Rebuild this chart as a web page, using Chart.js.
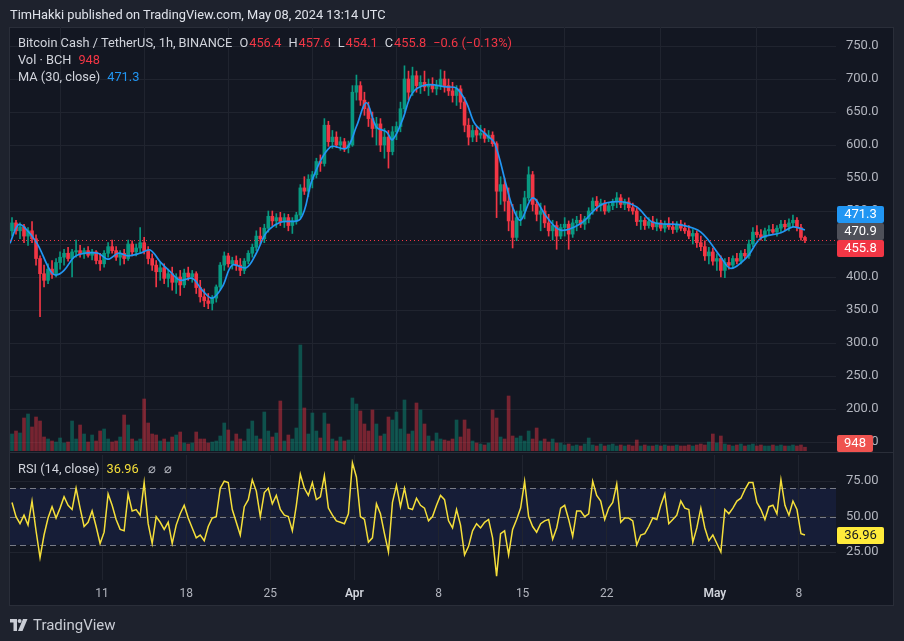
<!DOCTYPE html>
<html>
<head>
<meta charset="utf-8">
<script src="https://cdn.jsdelivr.net/npm/chart.js@4.4.1/dist/chart.umd.min.js"></script>
<style>
  body { margin: 0; width: 904px; height: 641px; overflow: hidden; background: #1e222d; position: relative; font-family: Roboto, "Noto Sans", sans-serif; }
  #frame { position: absolute; left: 9px; top: 27px; width: 883px; height: 577px; border: 1px solid #2a2e39; background: #131722; }
  .sep { position: absolute; left: 10px; width: 883px; background: #2a2e39; }
  canvas { position: absolute; left: 0; top: 0; }
  .t { position: absolute; white-space: pre; font-size: 12.8px; line-height: 16px; color: #d1d4dc; }
  .t span { margin-left: 7px; }
  .t span.v { margin-left: 1px; }
  .r { color: #f23645; }
  .b { color: #2196f3; }
  .y { color: #f5df3a; }
  .m { color: #b2b5be; }
</style>
</head>
<body>
<div id="frame"></div>
<div class="sep" style="top:452px;height:1px"></div>
<canvas id="prix" width="904" height="641"></canvas>
<canvas id="rsi" width="904" height="641"></canvas>

<div class="t" style="left:10px;top:7px;color:#dfe2ea">TimHakki published on TradingView.com, May 08, 2024 13:14 UTC</div>

<div class="t" style="left:18px;top:35px">Bitcoin Cash / TetherUS, 1h, BINANCE<span>O</span><span class="v r">456.4</span><span>H</span><span class="v r">457.6</span><span>L</span><span class="v r">454.1</span><span>C</span><span class="v r">455.8</span><span class="r">−0.6 (−0.13%)</span></div>
<div class="t" style="left:18px;top:52px">Vol · BCH<span class="r">948</span></div>
<div class="t" style="left:18px;top:69px">MA (30, close)<span class="b">471.3</span></div>

<div class="t" style="left:18px;top:461px">RSI (14, close)<span class="y">36.96</span><span class="m" style="margin-left:9px">⌀</span><span class="m" style="margin-left:8px">⌀</span></div>

<svg style="position:absolute;left:10px;top:619px" width="18" height="12" viewBox="0 0 18 12">
  <path d="M0 0h7v12H3.5V3.5H0z" fill="#c9ccd4"/>
  <circle cx="9.6" cy="2" r="2" fill="#c9ccd4"/>
  <path d="M13 0h4.5l-5 12H8z" fill="#c9ccd4"/>
</svg>
<div class="t" style="left:33px;top:616px;font-size:15px;line-height:18px;color:#c9ccd4">TradingView</div>

<script>
// 8-hour candles, hours counted from Mar 11 00:00 UTC
const candleStartHour = -184;
const candleHours = 8;

// [open, high, low, close]
const ohlc = [
  [470,490,462,482],[482,486,465,470],[470,482,458,476],[476,480,452,462],[462,475,448,470],
  [470,484,452,458],[458,464,418,428],[428,432,340,405],[405,418,385,395],[395,420,390,412],
  [412,425,398,404],[404,428,400,422],[422,438,412,430],[430,442,418,436],[436,445,424,428],
  [428,442,400,438],[438,456,430,440],[440,448,430,435],[435,444,428,440],[440,446,430,433],
  [433,442,426,438],[438,440,420,425],[425,436,410,420],[420,440,415,436],[436,452,430,446],
  [446,456,436,440],[440,446,425,430],[430,440,418,436],[436,442,420,428],[428,456,425,450],
  [450,455,432,438],[438,450,432,444],[444,475,436,452],[452,460,435,440],[440,446,420,428],
  [428,435,410,418],[418,425,385,408],[408,422,395,414],[414,420,390,398],[398,412,385,405],
  [405,415,380,392],[392,405,375,400],[400,410,372,388],[388,412,384,406],[406,415,395,400],
  [400,410,392,405],[405,408,375,384],[384,395,362,370],[370,382,355,364],[364,375,352,360],
  [360,372,350,368],[368,388,362,385],[385,422,380,418],[418,438,410,432],[432,436,415,420],
  [420,430,412,425],[425,432,410,418],[418,428,402,410],[410,428,405,424],[424,440,420,436],
  [436,450,430,445],[445,470,440,462],[462,475,450,458],[458,480,452,474],[474,500,468,492],
  [492,500,478,485],[485,496,475,490],[490,498,478,484],[484,496,475,490],[490,495,470,478],
  [478,490,466,485],[485,498,480,494],[494,540,490,535],[535,552,525,530],[530,555,522,548],
  [548,560,535,555],[555,580,550,575],[575,585,560,572],[572,640,568,630],[630,636,598,605],
  [605,622,595,612],[612,620,596,600],[600,612,592,605],[605,610,590,596],[596,606,588,600],
  [600,690,598,680],[680,706,668,690],[690,696,660,668],[668,680,645,655],[655,665,628,640],
  [640,650,612,625],[625,642,600,632],[632,640,590,600],[600,625,580,612],[612,622,565,590],
  [590,628,585,620],[620,635,608,628],[628,665,620,655],[655,720,650,700],[700,712,668,680],
  [680,718,675,705],[705,712,680,690],[690,705,678,695],[695,712,682,688],[688,700,675,692],
  [692,702,680,685],[685,698,676,690],[690,714,684,700],[700,712,680,690],[690,700,675,682],
  [682,695,665,675],[675,690,660,685],[685,690,655,665],[665,672,620,630],[630,640,600,612],
  [612,630,605,622],[622,628,605,615],[615,630,610,618],[618,625,604,610],[610,622,605,615],
  [615,620,598,602],[602,605,490,530],[530,552,510,540],[540,550,500,515],[515,535,470,485],
  [485,510,444,460],[460,500,455,490],[490,510,478,500],[500,530,488,520],[520,567,515,555],
  [555,560,500,510],[510,518,485,495],[495,512,470,500],[500,508,475,482],[482,495,462,470],
  [470,486,456,478],[478,484,442,462],[462,480,458,475],[475,490,462,480],[480,485,442,465],
  [465,488,460,482],[482,492,470,486],[486,495,475,480],[480,492,472,488],[488,505,482,500],
  [500,520,495,515],[515,522,500,508],[508,518,500,512],[512,516,495,500],[500,512,498,508],
  [508,518,502,514],[514,528,505,520],[520,525,505,510],[510,518,502,514],[514,520,500,505],
  [505,512,495,500],[500,504,478,484],[484,492,472,486],[486,490,472,478],[478,490,474,484],
  [484,492,472,476],[476,488,470,482],[482,486,470,474],[474,485,468,480],[480,490,472,476],
  [476,484,466,472],[472,484,468,480],[480,486,470,474],[474,482,466,470],[470,478,458,462],
  [462,472,450,466],[466,470,445,452],[452,462,440,446],[446,455,425,432],[432,445,420,438],
  [438,444,418,424],[424,435,410,428],[428,432,400,410],[410,428,399,422],[422,430,412,418],
  [418,432,414,428],[428,436,420,424],[424,440,420,436],[436,442,428,432],[432,456,428,450],
  [450,475,446,468],[468,478,460,464],[464,472,456,460],[460,474,455,470],[470,478,464,472],
  [472,480,466,468],[468,478,462,474],[474,486,468,480],[480,486,470,476],[476,488,470,482],
  [482,494,476,486],[486,490,470,475],[475,480,456,460],[460,462,452,455.8]
];

// volume (BCH), peak hourly bar inside each 8h slot
const volumes = [
  4250,5000,4500,8250,9250,6000,8500,7500,3500,3000,
  2500,2250,3250,2000,2250,7500,3000,6500,4250,2250,
  4000,2500,5000,5500,3000,2250,2500,3500,9000,6500,
  3000,2500,3000,13000,7000,4250,4000,2500,3000,2250,
  3500,4000,4750,2000,1750,2000,4750,3000,3000,2000,
  2250,2500,3750,7000,5250,2500,4250,3000,2500,5500,
  7500,3750,3000,9750,5000,3500,4500,12500,2500,4000,
  3000,5750,26500,10750,4250,9500,5000,3250,9500,6750,
  3000,2500,3500,2500,2750,13250,11750,10000,6750,5000,
  10250,6750,3750,4250,8500,7750,9750,5500,12750,4250,
  5000,12000,10250,6750,3750,2500,4500,3000,2750,2500,
  3000,7750,3500,7750,5500,2500,2000,1750,1500,2000,
  10250,8250,3500,3000,13750,3750,3250,3750,2500,5000,
  3000,5750,2500,3000,2250,3000,2000,2000,1500,1750,
  1250,1500,1250,1750,3250,1500,1250,1750,1250,1500,
  1750,1250,1500,1250,1500,1250,2750,1250,1500,1250,
  1250,1500,1250,1500,1250,1250,1500,1250,1250,1500,
  1250,1500,1750,1500,2250,4250,2000,3750,1750,1500,
  1250,1500,1750,1250,1500,1750,1250,1500,1250,1250,
  1500,1250,1500,1250,1250,1500,1250,1500,948
];

const rsiValues = [
  60,50,45,51,44,61,40,21,37,49,
  57,49,56,64,58,55,70,56,43,46,
  54,43,31,39,66,58,48,41,40,66,
  54,55,51,74,45,31,50,46,41,46,
  31,44,52,58,49,42,35,37,33,43,
  49,50,70,75,74,55,46,37,57,62,
  76,68,50,67,70,59,65,55,51,50,
  40,58,80,70,65,74,62,64,79,56,
  51,47,46,45,52,88,78,50,48,32,
  35,59,52,38,25,60,72,57,70,56,
  55,63,58,56,47,50,58,65,62,47,
  42,55,44,23,29,40,45,42,46,48,
  35,8,38,40,23,41,48,56,75,50,
  43,39,45,47,48,34,42,56,58,48,
  36,54,54,50,52,75,65,61,48,56,
  60,73,46,49,49,47,30,37,38,43,
  49,48,58,66,45,48,51,61,56,55,
  32,42,56,42,33,37,31,25,55,52,
  56,61,63,69,74,74,60,55,48,57,
  58,52,76,58,51,61,55,38,36.96
];

const maHours = [-184,-168,-156,-130,-104,-92,-76,-56,-36,-8,12,32,52,76,96,116,136,156,180,200,
  220,240,260,288,308,328,356,396,420,456,488,508,528,548,568,580,600,620,648,688,
  708,728,744,768,784,808,820,836,860,888,916,956,996,1036,1068,1100,1156,1196,1236,1256,
  1288,1316,1356,1380,1404];
const maValues = [451,479,476,451,410,403,410,430,436,436,427,436,432,436,441,423,408,395,398,380,
  368,385,418,414,436,467,483,488,548,597,595,628,664,627,620,608,638,679,691,688,
  686,664,633,615,603,537,506,486,520,491,471,481,509,514,506,483,479,468,430,413,
  430,459,467,476,471.3];

const tickHours = [0, 168, 336, 504, 672, 840, 1008, 1224, 1392];
const tickLabels = ['11', '18', '25', 'Apr', '8', '15', '22', 'May', '8'];
const priceTicks = [150, 200, 250, 300, 350, 400, 450, 500, 550, 600, 650, 700, 750];
const rsiTicks = [25, 50, 75];
const rsiLevels = [30, 50, 70];

const lastClose = 455.8;
const lastMa = 471.3;
const priceLine = 470.9;
const lastVolume = 948;
const lastRsi = 36.96;

const FONT = 'Roboto, "Noto Sans", sans-serif';
const GREEN = '#089981';
const RED = '#f23645';
const GRID = '#20242f';
const AXIS_TEXT = '#b2b5be';
const xMin = -184, xMax = 1466;

const centerHour = i => candleStartHour + candleHours * i + candleHours / 2;
const isUp = c => c[3] >= c[0];
const candleColors = ohlc.map(c => isUp(c) ? GREEN : RED);
const volColors = ohlc.map(c => isUp(c) ? 'rgba(8,153,129,0.45)' : 'rgba(242,54,69,0.45)');

function tag(ctx, x, yc, w, text, bg, fg) {
  ctx.fillStyle = bg;
  ctx.beginPath();
  ctx.roundRect(x, Math.round(yc - 8.5), w, 17, 2);
  ctx.fill();
  ctx.fillStyle = fg;
  ctx.font = '13px ' + FONT;
  ctx.textAlign = 'center';
  ctx.textBaseline = 'middle';
  ctx.fillText(text, x + w / 2, yc + 0.5);
}

const priceOverlay = {
  id: 'priceOverlay',
  afterDraw(chart) {
    const { ctx, chartArea: a, scales: { y, yVol } } = chart;
    ctx.save();
    const py = Math.round(y.getPixelForValue(lastClose)) + 0.5;
    ctx.strokeStyle = RED;
    ctx.lineWidth = 1;
    ctx.setLineDash([1, 3]);
    ctx.beginPath();
    ctx.moveTo(a.left, py);
    ctx.lineTo(a.right, py);
    ctx.stroke();
    ctx.setLineDash([]);
    // labels are stacked so they do not overlap, as on the original
    const gy = y.getPixelForValue(priceLine) + 1.5;
    tag(ctx, a.right + 1, gy - 17, 47, lastMa.toFixed(1), '#2196f3', '#ffffff');
    tag(ctx, a.right + 1, gy, 47, priceLine.toFixed(1), '#4e5059', '#ffffff');
    tag(ctx, a.right + 1, gy + 17, 47, lastClose.toFixed(1), RED, '#ffffff');
    const vy = Math.min(yVol.getPixelForValue(lastVolume), a.bottom - 7.5);
    tag(ctx, a.right + 1, vy, 36, String(lastVolume), '#ef5350', '#ffffff');
    ctx.restore();
  }
};

new Chart(document.getElementById('prix'), {
  type: 'bar',
  data: {
    datasets: [
      {
        type: 'line',
        data: maHours.map((h, i) => ({ x: h, y: maValues[i] })),
        borderColor: '#2196f3',
        borderWidth: 1.7,
        pointRadius: 0,
        tension: 0.35,
        yAxisID: 'y',
        order: 0
      },
      {
        data: ohlc.map((c, i) => ({ x: centerHour(i), y: [c[0], c[3]] })),
        backgroundColor: candleColors,
        barThickness: 3,
        minBarLength: 1,
        grouped: false,
        yAxisID: 'y',
        order: 1
      },
      {
        data: ohlc.map((c, i) => ({ x: centerHour(i), y: [c[2], c[1]] })),
        backgroundColor: candleColors,
        barThickness: 1,
        grouped: false,
        yAxisID: 'y',
        order: 2
      },
      {
        data: volumes.map((v, i) => ({ x: centerHour(i), y: v })),
        backgroundColor: volColors,
        barThickness: 3,
        grouped: false,
        yAxisID: 'yVol',
        order: 3
      }
    ]
  },
  options: {
    responsive: false,
    animation: false,
    devicePixelRatio: 1,
    layout: { padding: { left: 10, top: 27, right: 10, bottom: 190 } },
    plugins: { legend: { display: false }, tooltip: { enabled: false } },
    scales: {
      x: {
        type: 'linear', min: xMin, max: xMax, offset: false,
        afterBuildTicks: s => { s.ticks = tickHours.map(v => ({ value: v })); },
        ticks: { display: false },
        grid: { color: GRID, drawTicks: false },
        border: { display: false },
        afterFit: s => { s.height = 0; }
      },
      y: {
        position: 'right', min: 136.4, max: 778.8,
        afterBuildTicks: s => { s.ticks = priceTicks.map(v => ({ value: v })); },
        ticks: { color: AXIS_TEXT, font: { family: FONT, size: 13 }, padding: 10, callback: v => v.toFixed(1) },
        grid: { color: GRID, drawTicks: false },
        border: { display: false },
        afterFit: s => { s.width = 58; }
      },
      yVol: { display: false, min: 0, max: 106000 }
    }
  },
  plugins: [priceOverlay]
});

const rsiOverlay = {
  id: 'rsiOverlay',
  beforeDraw(chart) {
    const { ctx, chartArea: a, scales: { y } } = chart;
    const top = y.getPixelForValue(rsiLevels[2]);
    const bottom = y.getPixelForValue(rsiLevels[0]);
    ctx.save();
    ctx.fillStyle = '#161d37';
    ctx.fillRect(a.left, top, a.right - a.left, bottom - top);
    ctx.restore();
  },
  beforeDatasetsDraw(chart) {
    const { ctx, chartArea: a, scales: { y } } = chart;
    ctx.save();
    ctx.strokeStyle = '#787b86';
    ctx.lineWidth = 1;
    ctx.setLineDash([6, 4]);
    rsiLevels.forEach(level => {
      const py = Math.round(y.getPixelForValue(level)) + 0.5;
      ctx.beginPath();
      ctx.moveTo(a.left, py);
      ctx.lineTo(a.right, py);
      ctx.stroke();
    });
    ctx.restore();
  },
  afterDraw(chart) {
    const { ctx, chartArea: a, scales: { y } } = chart;
    ctx.save();
    tag(ctx, a.right + 1, y.getPixelForValue(lastRsi) + 0.5, 47, lastRsi.toFixed(2), '#ffeb3b', '#131722');
    ctx.restore();
  }
};

const isMonth = i => tickLabels[i] === 'Apr' || tickLabels[i] === 'May';

new Chart(document.getElementById('rsi'), {
  type: 'line',
  data: {
    datasets: [{
      data: rsiValues.map((v, i) => ({ x: centerHour(i), y: v })),
      borderColor: '#f5df3a',
      borderWidth: 1.5,
      pointRadius: 0,
      tension: 0
    }]
  },
  options: {
    responsive: false,
    animation: false,
    devicePixelRatio: 1,
    layout: { padding: { left: 10, top: 455, right: 10, bottom: 35 } },
    plugins: { legend: { display: false }, tooltip: { enabled: false } },
    scales: {
      x: {
        type: 'linear', min: xMin, max: xMax, offset: false,
        afterBuildTicks: s => { s.ticks = tickHours.map(v => ({ value: v })); },
        ticks: {
          autoSkip: false, maxRotation: 0, padding: 7,
          color: c => isMonth(c.index) ? '#d1d4dc' : AXIS_TEXT,
          font: c => ({ family: FONT, size: 12, weight: isMonth(c.index) ? '600' : '400' }),
          callback: (v, i) => tickLabels[i]
        },
        grid: { color: GRID, drawTicks: false },
        border: { display: false },
        afterFit: s => { s.height = 26; }
      },
      y: {
        position: 'right', min: 5.24, max: 93.5,
        afterBuildTicks: s => { s.ticks = rsiTicks.map(v => ({ value: v })); },
        ticks: { color: AXIS_TEXT, font: { family: FONT, size: 13 }, padding: 10, callback: v => v.toFixed(2) },
        grid: { color: GRID, drawTicks: false },
        border: { display: false },
        afterFit: s => { s.width = 58; }
      }
    }
  },
  plugins: [rsiOverlay]
});
</script>
</body>
</html>
